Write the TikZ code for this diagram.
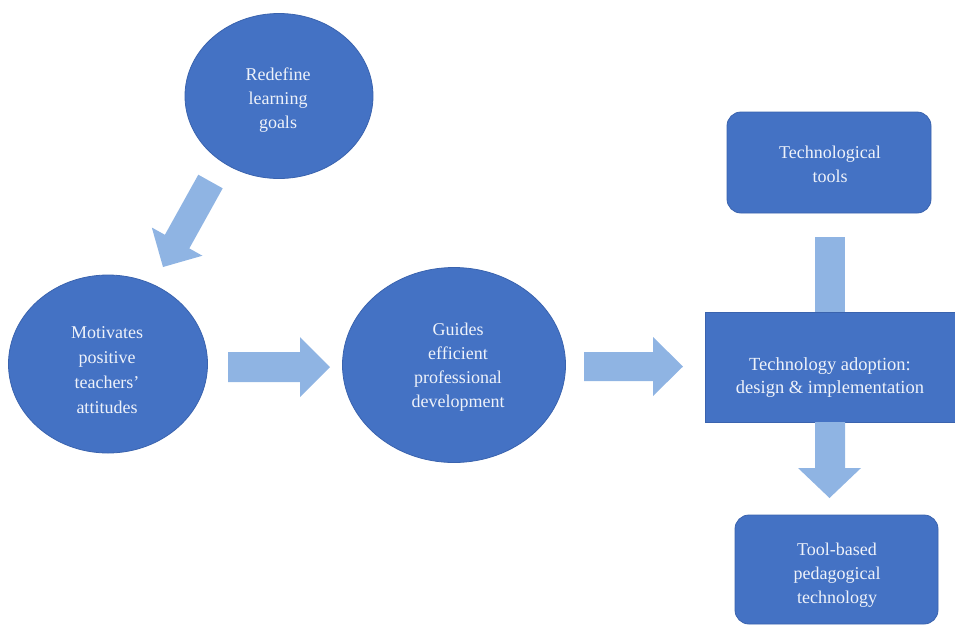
\documentclass[tikz,border=0pt]{standalone}
\usepackage{fontspec}
\setmainfont{Liberation Serif}
\usetikzlibrary{shapes.geometric}
\definecolor{nodeblue}{HTML}{4472C4}
\definecolor{nodeedge}{HTML}{3A63AE}
\definecolor{arrowblue}{HTML}{8FB4E3}
\definecolor{txtcol}{HTML}{EEF2FA}
\begin{document}
\begin{tikzpicture}[x=1pt,y=-1pt,
  lbl/.style={text=txtcol, font=\fontsize{18}{24}\selectfont, align=center},
  oval/.style={ellipse, fill=nodeblue, draw=nodeedge, line width=0.8pt, inner sep=0pt},
  rbox/.style={rectangle, rounded corners=14pt, fill=nodeblue, draw=nodeedge, line width=0.8pt, inner sep=0pt},
  sbox/.style={rectangle, fill=nodeblue, draw=nodeedge, line width=0.8pt, inner sep=0pt},
  barrow/.style={fill=arrowblue, draw=none}]
\useasboundingbox (0,0) rectangle (955,625);

% shapes
\node[oval, minimum width=188pt, minimum height=165pt] (goals) at (279,96) {};
\node[oval, minimum width=199pt, minimum height=178pt] (motiv) at (108,364) {};
\node[oval, minimum width=223pt, minimum height=195pt] (guides) at (454,365) {};
\node[rbox, minimum width=204pt, minimum height=101pt] (tools) at (829,162.5) {};

% vertical shaft from tools into adoption box (drawn under the box)
\coordinate (vt1) at (815,237);
\coordinate (vt2) at (845,314);
\path[barrow] (vt1) rectangle (vt2);

\node[sbox, minimum width=250pt, minimum height=110pt] (adopt) at (830,367) {};
\node[rbox, minimum width=203pt, minimum height=109pt] (toolped) at (836.5,569.5) {};

% texts
\node[lbl] (goalstxt) at (278,100) {Redefine\\learning\\goals};
\node[lbl, font=\fontsize{18}{25}\selectfont] (motivtxt) at (107,370) {Motivates\\positive\\teachers'\\attitudes};
\node[lbl] (guidestxt) at (458,367) {Guides\\efficient\\professional\\development};
\node[lbl] (toolstxt) at (830,164) {Technological\\tools};
\node[lbl, font=\fontsize{18.5}{23}\selectfont] (adopttxt) at (830,378) {Technology adoption:\\design \& implementation};
\node[lbl] (toolpedtxt) at (837,575) {Tool-based\\pedagogical\\technology};

% block arrows
\path[barrow] (198.3,174.7) -- (222.7,188.3) -- (189.3,248.4) -- (202.4,255.7)
  -- (163,267) -- (151.8,227.5) -- (164.9,234.8) -- cycle;
\path[barrow] (228,352) -- (300,352) -- (300,337) -- (330,367) -- (300,397)
  -- (300,382) -- (228,382) -- cycle;
\path[barrow] (584,352) -- (653,352) -- (653,337) -- (683,366.5) -- (653,396)
  -- (653,381) -- (584,381) -- cycle;
\path[barrow] (815,422) -- (815,468) -- (798,468) -- (829.5,498) -- (861,468)
  -- (845,468) -- (845,422) -- cycle;
\end{tikzpicture}
\end{document}
